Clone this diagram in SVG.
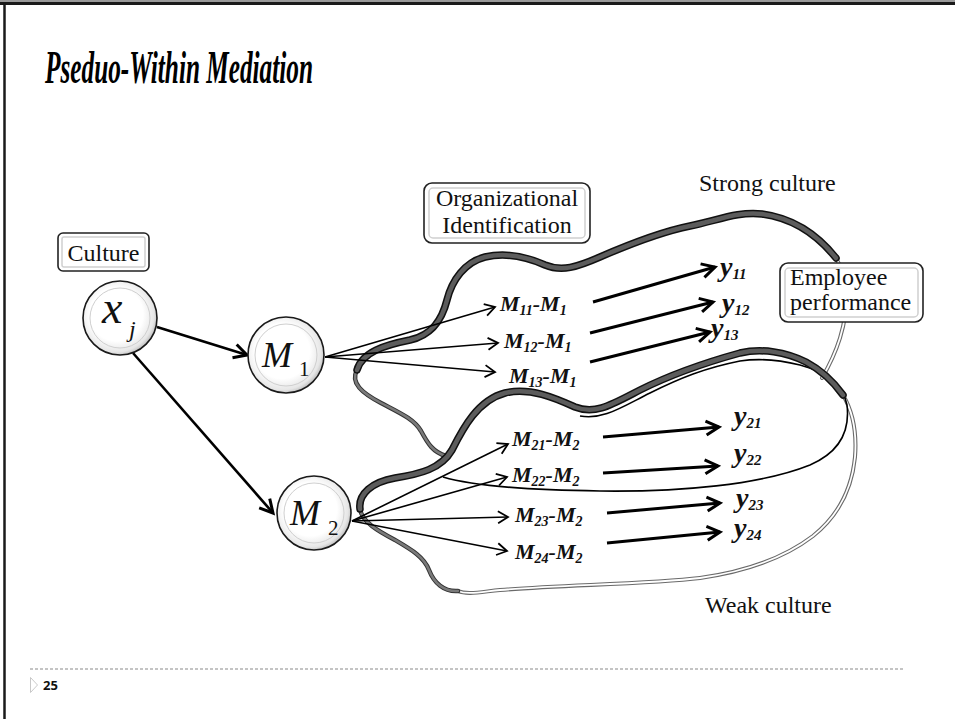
<svg xmlns="http://www.w3.org/2000/svg" width="955" height="719" viewBox="0 0 955 719">
  <defs>
    <style>
      .lbl { font-family: "Liberation Serif", "Times New Roman", serif; font-size: 24px; fill: #111; }
      .scr { font-family: "Liberation Serif", "Times New Roman", serif; font-style: italic; font-weight: bold; fill: #111; }
      .mth { font-family: "Liberation Serif", "Times New Roman", serif; fill: #111; }
      .box { fill: #fff; stroke: #222; stroke-width: 1.6; }
      .boxin { fill: none; stroke: #d0d0d0; stroke-width: 1.5; }
      .ring { fill: url(#orb); stroke: #1a1a1a; stroke-width: 1.6; }
      .ringin { fill: none; stroke: #cfcfcf; stroke-width: 1; }
      .thin { fill: none; stroke: #000; stroke-width: 1.6; marker-end: url(#chev); }
      .thick { fill: none; stroke: #000; stroke-width: 3; marker-end: url(#chevB); }
      .ribEdge { fill: none; stroke: #111; stroke-width: 7.5; stroke-linecap: round; stroke-linejoin: round; }
      .ribFill { fill: none; stroke: #5c5c5c; stroke-width: 4.5; stroke-linecap: round; stroke-linejoin: round; }
      .twEdge { fill: none; stroke: #333; stroke-width: 4.5; stroke-linecap: round; }
      .twFill { fill: none; stroke: #7a7a7a; stroke-width: 2.5; stroke-linecap: round; }
      .dblOut { fill: none; stroke: #6a6a6a; stroke-width: 4; stroke-linecap: round; }
      .dblIn { fill: none; stroke: #fff; stroke-width: 1.8; stroke-linecap: round; }
    </style>
    <radialGradient id="orb" cx="0.45" cy="0.45" r="0.6">
      <stop offset="0.6" stop-color="#ffffff"/>
      <stop offset="0.85" stop-color="#e6e6e6"/>
      <stop offset="1" stop-color="#a8a8a8"/>
    </radialGradient>
    <marker id="chev" markerUnits="userSpaceOnUse" markerWidth="16" markerHeight="16" refX="13" refY="8" orient="auto">
      <path d="M3,2 L13,8 L3,14" fill="none" stroke="#000" stroke-width="1.8"/>
    </marker>
    <marker id="chevB" markerUnits="userSpaceOnUse" markerWidth="20" markerHeight="20" refX="16" refY="10" orient="auto">
      <path d="M3,3 L16,10 L3,17" fill="none" stroke="#000" stroke-width="3"/>
    </marker>
  </defs>

  <rect x="0" y="0" width="955" height="719" fill="#fff"/>

  <!-- slide frame -->
  <path d="M0,1 H955" stroke="#999" stroke-width="2"/>
  <path d="M0,3.5 H955" stroke="#1a1a1a" stroke-width="3"/>
  <path d="M4.5,2 V719" stroke="#1a1a1a" stroke-width="2.5"/>

  <!-- title -->
  <text x="45" y="83" font-family="Liberation Serif, serif" font-style="italic" font-weight="bold" font-size="46" textLength="268" lengthAdjust="spacingAndGlyphs" fill="#000">Pseduo-Within Mediation</text>

  <!-- culture regions -->
  <g id="strong-region">
    <path class="dblOut" d="M836,258 C849,280 849,308 840,338 C835,354 829,366 822,378"/>
    <path class="dblIn" d="M836,258 C849,280 849,308 840,338 C835,354 829,366 822,378"/>
    <path class="twEdge" d="M357,370 C350,383 362,393 381,403 C400,413 414,419 421,431 C428,444 433,452 446,456"/>
    <path class="twFill" d="M357,370 C350,383 362,393 381,403 C400,413 414,419 421,431 C428,444 433,452 446,456"/>
    <path class="ribEdge" d="M357,370 C362,352 385,345 410,340 C432,335 442,320 447,300 C452,280 465,262 485,257 C507,252 527,257 545,265 C562,272 577,267 600,257 C630,244 660,232 690,226 C716,221 738,211 762,214 C792,218 816,233 836,258"/>
    <path class="ribFill" d="M357,370 C362,352 385,345 410,340 C432,335 442,320 447,300 C452,280 465,262 485,257 C507,252 527,257 545,265 C562,272 577,267 600,257 C630,244 660,232 690,226 C716,221 738,211 762,214 C792,218 816,233 836,258"/>
  </g>

  <g id="weak-region">
    <path class="dblOut" d="M843,395 C853,412 857,432 855,457 C852,488 838,516 813,536 C788,555 750,571 700,578 C650,584 560,585 500,590 C480,592 467,595 458,591"/>
    <path class="dblIn" d="M843,395 C853,412 857,432 855,457 C852,488 838,516 813,536 C788,555 750,571 700,578 C650,584 560,585 500,590 C480,592 467,595 458,591"/>
    <path class="twEdge" d="M360,509 C362,522 378,531 395,540 C412,550 424,557 429,570 C434,583 444,592 458,591"/>
    <path class="twFill" d="M360,509 C362,522 378,531 395,540 C412,550 424,557 429,570 C434,583 444,592 458,591"/>
    <path d="M443,477 C470,485 520,490 600,491 C680,492 760,485 810,465 C840,452 850,430 847,405 C843,385 826,372 800,365 C780,360 760,358 740,361 C705,368 680,378 650,393 C620,408 603,420 580,416" fill="none" stroke="#000" stroke-width="1.6"/>
    <path class="ribEdge" d="M360,509 C358,494 372,482 395,478 C420,474 441,469 452,450 C463,428 478,400 505,393 C530,387 555,398 575,407 C595,415 611,405 640,390 C670,375 700,364 740,353 C762,348 786,352 806,362 C821,370 833,381 843,395"/>
    <path class="ribFill" d="M360,509 C358,494 372,482 395,478 C420,474 441,469 452,450 C463,428 478,400 505,393 C530,387 555,398 575,407 C595,415 611,405 640,390 C670,375 700,364 740,353 C762,348 786,352 806,362 C821,370 833,381 843,395"/>
  </g>

  <!-- connectors -->
  <g id="connectors">
    <line class="thick" x1="157" y1="327" x2="247" y2="355" style="stroke-width:2.6"/>
    <line class="thick" x1="133" y1="353" x2="273" y2="513" style="stroke-width:2.6"/>
    <line class="thin" x1="325" y1="357" x2="495" y2="307"/>
    <line class="thin" x1="325" y1="357" x2="498" y2="343"/>
    <line class="thin" x1="325" y1="357" x2="495" y2="372"/>
    <line class="thin" x1="352" y1="521" x2="508" y2="444"/>
    <line class="thin" x1="352" y1="521" x2="507" y2="477"/>
    <line class="thin" x1="352" y1="521" x2="508" y2="517"/>
    <line class="thin" x1="352" y1="521" x2="507" y2="551"/>
    <line class="thick" x1="593" y1="302" x2="715" y2="267"/>
    <line class="thick" x1="590" y1="333" x2="713" y2="302"/>
    <line class="thick" x1="590" y1="362" x2="710" y2="332"/>
    <line class="thick" x1="603" y1="437" x2="719" y2="427"/>
    <line class="thick" x1="603" y1="473" x2="718" y2="466"/>
    <line class="thick" x1="607" y1="513" x2="720" y2="503"/>
    <line class="thick" x1="607" y1="543" x2="720" y2="532"/>
  </g>

  <!-- nodes -->
  <g id="culture-label">
    <rect class="box" x="58" y="233" width="91" height="38" rx="5"/>
    <rect class="boxin" x="62" y="237" width="83" height="30" rx="2"/>
    <text class="lbl" x="103.5" y="261" text-anchor="middle" font-size="23">Culture</text>
  </g>

  <g id="node-xj">
    <circle class="ring" cx="120" cy="318" r="37"/>
    <circle class="ringin" cx="120" cy="318" r="30"/>
    <text class="mth" x="102" y="323" font-size="46" font-style="italic">x</text>
    <text class="mth" x="129" y="337" font-size="24" font-style="italic">j</text>
  </g>

  <g id="node-m1">
    <circle class="ring" cx="286" cy="355" r="38"/>
    <circle class="ringin" cx="286" cy="355" r="31"/>
    <text class="mth" x="262" y="367" font-size="36" font-style="italic">M</text>
    <text class="mth" x="299" y="376" font-size="21">1</text>
  </g>

  <g id="node-m2">
    <circle class="ring" cx="314" cy="513" r="37"/>
    <circle class="ringin" cx="314" cy="513" r="30"/>
    <text class="mth" x="290" y="525" font-size="36" font-style="italic">M</text>
    <text class="mth" x="328" y="535" font-size="21">2</text>
  </g>

  <g id="org-identification-label">
    <rect class="box" x="424" y="183" width="166" height="60" rx="8"/>
    <rect class="boxin" x="429" y="188" width="156" height="50" rx="4"/>
    <text class="lbl" x="507" y="206" text-anchor="middle" font-size="25">Organizational</text>
    <text class="lbl" x="507" y="233" text-anchor="middle" font-size="25">Identification</text>
  </g>

  <g id="strong-culture-label">
    <text class="lbl" x="699" y="191">Strong culture</text>
  </g>

  <g id="weak-culture-label">
    <text class="lbl" x="705" y="613">Weak culture</text>
  </g>

  <g id="employee-performance-label">
    <rect class="box" x="780" y="263" width="143" height="59" rx="8"/>
    <rect class="boxin" x="785" y="268" width="133" height="49" rx="4"/>
    <text class="lbl" x="790" y="285">Employee</text>
    <text class="lbl" x="790" y="310">performance</text>
  </g>

  <g id="mediators-m1">
    <text class="scr" x="500" y="311" font-size="22">M<tspan font-size="14" dy="4">11</tspan><tspan dy="-4">-M</tspan><tspan font-size="14" dy="4">1</tspan></text>
    <text class="scr" x="504" y="348" font-size="22">M<tspan font-size="14" dy="4">12</tspan><tspan dy="-4">-M</tspan><tspan font-size="14" dy="4">1</tspan></text>
    <text class="scr" x="509" y="383" font-size="22">M<tspan font-size="14" dy="4">13</tspan><tspan dy="-4">-M</tspan><tspan font-size="14" dy="4">1</tspan></text>
  </g>

  <g id="mediators-m2">
    <text class="scr" x="512" y="446" font-size="22">M<tspan font-size="14" dy="4">21</tspan><tspan dy="-4">-M</tspan><tspan font-size="14" dy="4">2</tspan></text>
    <text class="scr" x="512" y="482" font-size="22">M<tspan font-size="14" dy="4">22</tspan><tspan dy="-4">-M</tspan><tspan font-size="14" dy="4">2</tspan></text>
    <text class="scr" x="515" y="522" font-size="22">M<tspan font-size="14" dy="4">23</tspan><tspan dy="-4">-M</tspan><tspan font-size="14" dy="4">2</tspan></text>
    <text class="scr" x="515" y="559" font-size="22">M<tspan font-size="14" dy="4">24</tspan><tspan dy="-4">-M</tspan><tspan font-size="14" dy="4">2</tspan></text>
  </g>

  <g id="outcomes-strong">
    <text class="scr" x="720" y="276" font-size="28">y<tspan font-size="15" dy="3">11</tspan></text>
    <text class="scr" x="722" y="312" font-size="28">y<tspan font-size="15" dy="3">12</tspan></text>
    <text class="scr" x="711" y="337" font-size="28">y<tspan font-size="15" dy="3">13</tspan></text>
  </g>

  <g id="outcomes-weak">
    <text class="scr" x="734" y="425" font-size="28">y<tspan font-size="15" dy="3">21</tspan></text>
    <text class="scr" x="734" y="462" font-size="28">y<tspan font-size="15" dy="3">22</tspan></text>
    <text class="scr" x="736" y="507" font-size="28">y<tspan font-size="15" dy="3">23</tspan></text>
    <text class="scr" x="734" y="537" font-size="28">y<tspan font-size="15" dy="3">24</tspan></text>
  </g>

  <!-- footer -->
  <line x1="30" y1="669" x2="905" y2="669" stroke="#8a8a8a" stroke-width="1.2" stroke-dasharray="3,2"/>
  <path d="M30.5,677.5 L37.5,685 L30.5,692.5 Z" fill="none" stroke="#bbb" stroke-width="0.8"/>
  <text x="43" y="690" font-family="Open Sans, Liberation Sans, sans-serif" font-weight="bold" font-size="13" fill="#111">25</text>
</svg>
